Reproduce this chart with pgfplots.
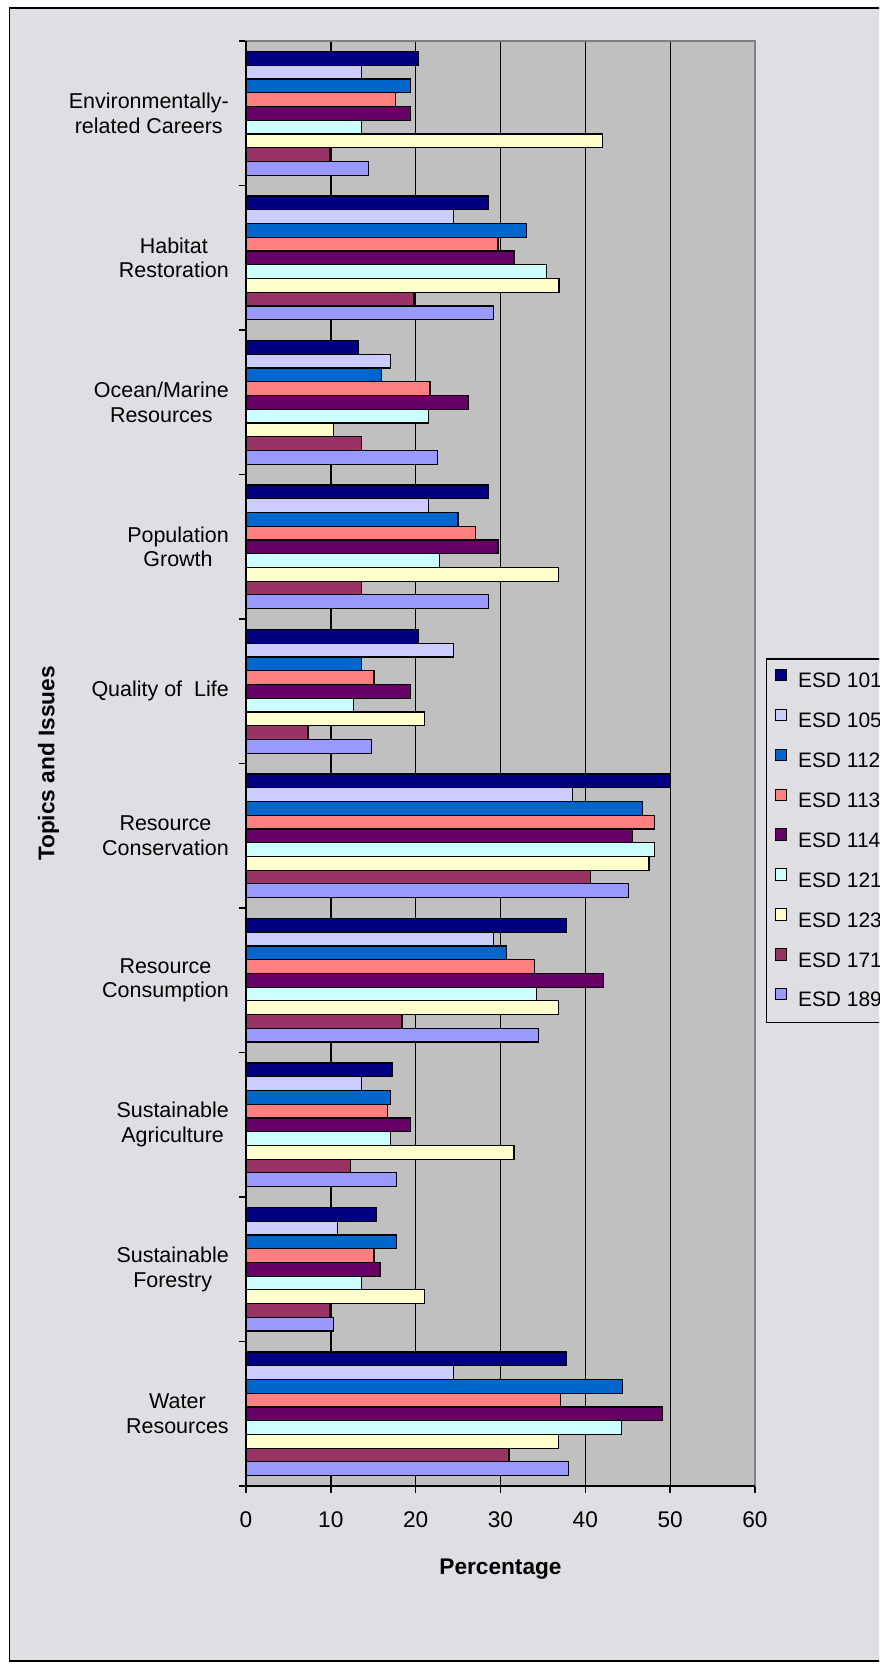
\documentclass[border=0pt]{standalone}
\usepackage{pgfplots}
\pgfplotsset{compat=1.18}
\usepackage{pgfplotstable}
\usepackage{fontspec}
\setmainfont{Liberation Sans}
\definecolor{chartbg}{HTML}{DFDFE3}
\definecolor{plotbg}{HTML}{C0C0C0}
\definecolor{c101}{HTML}{000080}
\definecolor{c105}{HTML}{CCCCFF}
\definecolor{c112}{HTML}{0066CC}
\definecolor{c113}{HTML}{FF8080}
\definecolor{c114}{HTML}{660066}
\definecolor{c121}{HTML}{CCFFFF}
\definecolor{c123}{HTML}{FFFFCC}
\definecolor{c171}{HTML}{993366}
\definecolor{c189}{HTML}{9999FF}
\definecolor{framegray}{HTML}{808080}

% y: 0 = Water Resources (bottom) ... 9 = Environmentally-related Careers (top)
\pgfplotstableread{
y s101 s105 s112 s113 s114 s121 s123 s171 s189
0 37.8 24.5 44.4 37.1 49.1 44.3 36.8 31.0 38.0
1 15.4 10.8 17.7 15.1 15.8 13.6 21.0 9.9 10.3
2 17.2 13.6 17.0 16.7 19.4 17.0 31.6 12.3 17.7
3 37.8 29.2 30.7 34.0 42.1 34.2 36.8 18.4 34.5
4 50.0 38.5 46.7 48.2 45.6 48.2 47.5 40.6 45.1
5 20.3 24.5 13.6 15.1 19.4 12.7 21.0 7.3 14.8
6 28.6 21.5 25.0 27.1 29.7 22.8 36.8 13.6 28.6
7 13.2 17.0 16.0 21.7 26.2 21.5 10.3 13.6 22.6
8 28.6 24.5 33.1 29.7 31.6 35.4 36.9 19.8 29.2
9 20.3 13.6 19.4 17.6 19.4 13.6 42.0 9.9 14.4
}\datatable

\begin{document}
\begin{tikzpicture}
\clip (0pt,0pt) rectangle (659.25pt,-1250.25pt);
\fill[white] (0pt,0pt) rectangle (659.25pt,-1250.25pt);
\filldraw[fill=chartbg, draw=black, line width=1.4pt] (7.1pt,-6pt) rectangle (690pt,-1245.75pt);
\begin{axis}[
  at={(184.5pt,-1114.5pt)}, anchor=south west,
  scale only axis, width=381.75pt, height=1083.75pt,
  xbar=0pt, bar width=10.3pt,
  xmin=0, xmax=60, ymin=-0.5, ymax=9.5,
  xtick={0,10,...,60},
  ytick={0,...,9},
  yticklabels={{Water\\Resources},{Sustainable\\Forestry},{Sustainable\\Agriculture},{Resource\\Consumption},{Resource\\Conservation},{Quality of\ \ Life},{Population\\Growth},{Ocean/Marine\\Resources},{Habitat\\Restoration},{Environmentally-\\related Careers}},
  minor ytick={-0.5,0.5,...,9.5},
  tick align=outside, tick pos=left,
  major tick length=5.25pt, minor tick length=5.25pt,
  major y tick style={draw=none},
  minor y tick style={black, line width=1.1pt},
  major x tick style={black, line width=1.1pt},
  xmajorgrids, major x grid style={black, line width=1pt},
  axis background/.style={fill=plotbg},
  axis line style={draw=framegray, line width=1.3pt},
  /pgf/number format/assume math mode=true,
  xticklabel style={anchor=base, yshift=-26pt, font=\fontsize{17pt}{20pt}\selectfont},
  yticklabel style={anchor=east, align=center, inner sep=0pt, xshift=-7.5pt, font=\fontsize{16.1pt}{18.6pt}\selectfont},
  xlabel={Percentage},
  xlabel style={at={(axis description cs:0.5,-0.0612)}, anchor=base, font=\fontsize{17pt}{20pt}\selectfont\bfseries},
  ylabel={Topics and Issues},
  ylabel style={at={(axis description cs:-0.388,0.5)}, anchor=center, font=\fontsize{17pt}{20pt}\selectfont\bfseries},
  legend style={at={(1.0216,0.5730)}, anchor=north west, draw=black, line width=1.1pt, fill=none,
    inner xsep=6pt, inner ysep=7.55pt, row sep=11.75pt,
    font=\fontsize{15.7pt}{18pt}\selectfont,
    nodes={inner sep=0pt, text height=12pt, text depth=4pt},
    /tikz/every odd column/.append style={column sep=8.25pt}},
  legend cell align=left,
  reverse legend,
  legend image code/.code={\draw[#1, line width=0.75pt] (0pt,1.3pt) rectangle (8.5pt,9.8pt);},
  after end axis/.code={
    \draw[black, line width=1.3pt] (rel axis cs:0,0) -- (rel axis cs:0,1);
    \draw[black, line width=1.3pt] (rel axis cs:0,0) -- (rel axis cs:1,0);
  },
]
\addplot[fill=c189, draw=black, line width=0.9pt] table[x=s189, y=y] {\datatable};
\addlegendentry{ESD 189}
\addplot[fill=c171, draw=black, line width=0.9pt] table[x=s171, y=y] {\datatable};
\addlegendentry{ESD 171}
\addplot[fill=c123, draw=black, line width=0.9pt] table[x=s123, y=y] {\datatable};
\addlegendentry{ESD 123}
\addplot[fill=c121, draw=black, line width=0.9pt] table[x=s121, y=y] {\datatable};
\addlegendentry{ESD 121}
\addplot[fill=c114, draw=black, line width=0.9pt] table[x=s114, y=y] {\datatable};
\addlegendentry{ESD 114}
\addplot[fill=c113, draw=black, line width=0.9pt] table[x=s113, y=y] {\datatable};
\addlegendentry{ESD 113}
\addplot[fill=c112, draw=black, line width=0.9pt] table[x=s112, y=y] {\datatable};
\addlegendentry{ESD 112}
\addplot[fill=c105, draw=black, line width=0.9pt] table[x=s105, y=y] {\datatable};
\addlegendentry{ESD 105}
\addplot[fill=c101, draw=black, line width=0.9pt] table[x=s101, y=y] {\datatable};
\addlegendentry{ESD 101}
\end{axis}
\end{tikzpicture}
\end{document}
